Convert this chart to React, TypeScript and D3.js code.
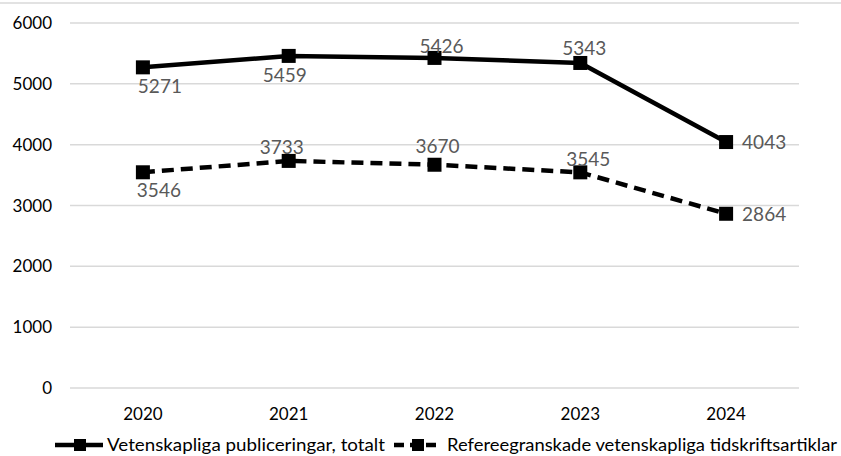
import React from "react";
import * as d3 from "d3";

const years = ["2020", "2021", "2022", "2023", "2024"];
const totalPublications = [5271, 5459, 5426, 5343, 4043];
const refereedArticles = [3546, 3733, 3670, 3545, 2864];
const yTicks = [0, 1000, 2000, 3000, 4000, 5000, 6000];
const seriesNames = [
  "Vetenskapliga publiceringar, totalt",
  "Refereegranskade vetenskapliga tidskriftsartiklar",
];

// label placement (position, dx, dy tweaks) per point
const totalLabelPlacement = [
  { pos: "below", dx: 17, dy: 0 },
  { pos: "below", dx: -4, dy: 0 },
  { pos: "above", dx: 7, dy: 3 },
  { pos: "above", dx: 4, dy: 0 },
  { pos: "right", dx: 0, dy: 0 },
];
const refLabelPlacement = [
  { pos: "below", dx: 16, dy: -1 },
  { pos: "above", dx: -7, dy: 1 },
  { pos: "above", dx: 3, dy: -4 },
  { pos: "above", dx: 8, dy: 2 },
  { pos: "right", dx: 0, dy: 0 },
];

const W = 841;
const H = 456;
const FONT = "Lato, 'Open Sans', sans-serif";

export default function App() {
  const x = d3.scaleBand<string>().domain(years).range([70, 799]);
  const y = d3.scaleLinear().domain([0, 6000]).range([388, 23]);
  const cx = (d: string) => (x(d) as number) + x.bandwidth() / 2;
  const line = d3
    .line<number>()
    .x((_, i) => cx(years[i]))
    .y((v) => y(v));

  const labelProps = (v: number, i: number, p: { pos: string; dx: number; dy: number }) => {
    const px = cx(years[i]);
    const py = y(v);
    if (p.pos === "below") return { x: px + p.dx, y: py + 26 + p.dy, anchor: "middle" };
    if (p.pos === "above") return { x: px + p.dx, y: py - 8 + p.dy, anchor: "middle" };
    return { x: px + 16 + p.dx, y: py + 7 + p.dy, anchor: "start" };
  };

  const series = [
    { values: totalPublications, dash: undefined as string | undefined, place: totalLabelPlacement },
    { values: refereedArticles, dash: "12,7", place: refLabelPlacement },
  ];

  return (
    <svg
      width={W}
      height={H}
      style={{ position: "absolute", left: 0, top: 0, background: "#fff" }}
      fontFamily={FONT}
    >
      <line x1={0} x2={W} y1={3} y2={3} stroke="#d9d9d9" strokeWidth={1.5} />
      {yTicks.map((t) => (
        <g key={t}>
          <line x1={70} x2={799} y1={y(t)} y2={y(t)} stroke="#d9d9d9" strokeWidth={1.5} />
          <text x={52} y={y(t) + 6} textAnchor="end" fontSize={17} fill="#000">
            {t}
          </text>
        </g>
      ))}
      {years.map((yr) => (
        <text key={yr} x={cx(yr)} y={420} textAnchor="middle" fontSize={17} fill="#000">
          {yr}
        </text>
      ))}
      {series.map((s, si) => (
        <g key={si}>
          <path
            d={line(s.values) || ""}
            fill="none"
            stroke="#000"
            strokeWidth={4.5}
            strokeDasharray={s.dash}
            strokeLinejoin="round"
          />
          {s.values.map((v, i) => (
            <rect key={i} x={cx(years[i]) - 7} y={y(v) - 7} width={14} height={14} fill="#000" />
          ))}
          {s.values.map((v, i) => {
            const l = labelProps(v, i, s.place[i]);
            return (
              <text key={"l" + i} x={l.x} y={l.y} textAnchor={l.anchor as any} fontSize={19} fill="#595959">
                {v}
              </text>
            );
          })}
        </g>
      ))}
      {/* legend */}
      <g>
        <line x1={55} x2={103} y1={445} y2={445} stroke="#000" strokeWidth={4.5} />
        <rect x={74} y={439} width={12} height={12} fill="#000" />
        <text x={107} y={451} fontSize={18} fill="#000" textLength={278} lengthAdjust="spacingAndGlyphs">
          {seriesNames[0]}
        </text>
        <line x1={394} x2={442} y1={445} y2={445} stroke="#000" strokeWidth={4.5} strokeDasharray="10,6" />
        <rect x={412} y={439} width={12} height={12} fill="#000" />
        <text x={447} y={451} fontSize={18} fill="#000" textLength={390} lengthAdjust="spacingAndGlyphs">
          {seriesNames[1]}
        </text>
      </g>
    </svg>
  );
}
